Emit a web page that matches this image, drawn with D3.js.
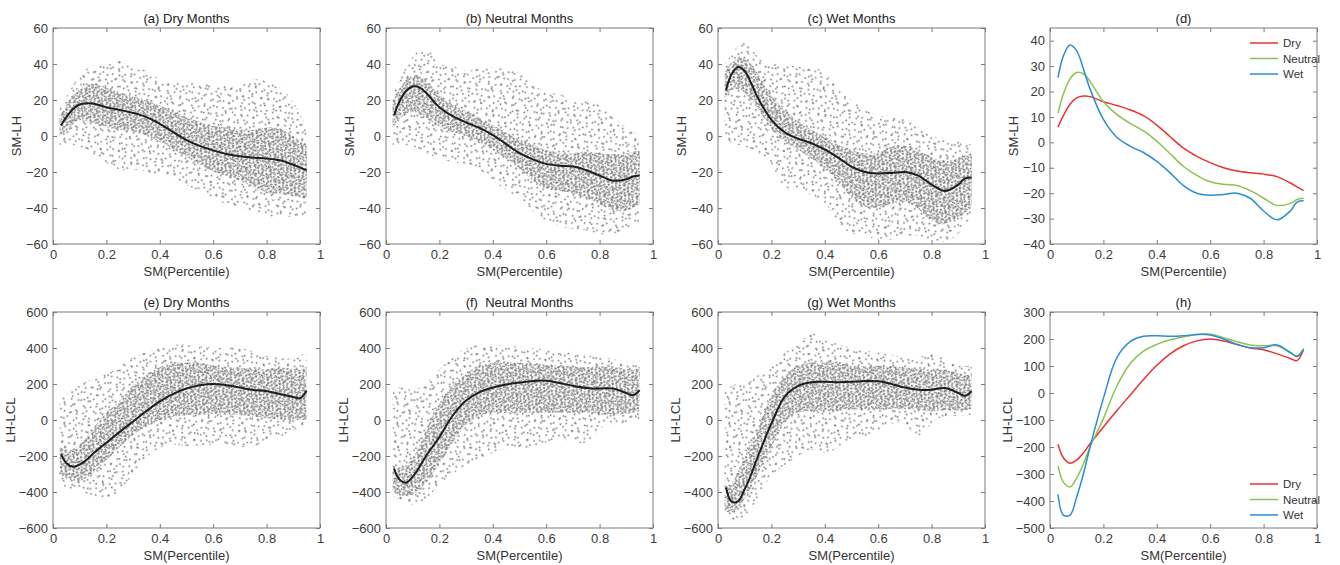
<!DOCTYPE html>
<html>
<head>
<meta charset="utf-8">
<script src="https://cdn.jsdelivr.net/npm/d3@7/dist/d3.min.js"></script>
<style>
  body { margin: 0; background: #fff; }
  svg text { font-family: "Liberation Sans", Arial, sans-serif; }
</style>
</head>
<body>
<svg id="chart" width="1340" height="565"></svg>
<script>
// smoothed curves (d) and (h)
var curveX = [0.03,0.05,0.075,0.1,0.125,0.15,0.2,0.25,0.3,0.35,0.4,0.45,0.5,0.55,0.6,0.65,0.7,0.75,0.8,0.85,0.9,0.925,0.95];
var dryLH     = [6,10.5,15,17.5,18.2,18,16,14.5,12.8,10.5,6.8,2.2,-2.3,-5.5,-8,-10,-11.3,-12,-12.5,-13.5,-16,-17.5,-19];
var neutralLH = [11.5,19,25,27.5,27,24,16,11,7.5,4.5,0.5,-4.5,-9.5,-13,-15.5,-16.5,-17,-19,-22,-24.8,-24,-22.5,-22];
var wetLH     = [25.5,34,38.3,36,29,21,9,2,-1.5,-4,-7.5,-12,-17,-20,-20.8,-20.5,-20,-22,-27,-30.5,-27,-23.5,-23];
var dryLCL     = [-190,-240,-260,-248,-222,-188,-126,-66,-8,50,103,145,175,193,200,193,180,167,160,145,128,120,162];
var neutralLCL = [-270,-330,-348,-315,-262,-200,-95,25,108,155,180,197,208,217,218,205,190,178,175,175,150,138,165];
var wetLCL     = [-375,-452,-452,-385,-300,-200,-20,130,190,210,212,210,212,217,215,200,180,168,168,178,150,135,160];

// scatter clouds: dense core and sparse outer envelope [low, high] at each SM value
var bandX = [0.025,0.05,0.1,0.15,0.2,0.25,0.3,0.35,0.4,0.45,0.5,0.55,0.6,0.65,0.7,0.75,0.8,0.85,0.9,0.95];
var dryLHCore  = [[0,10],[3,18],[10,27],[7,30],[5,27],[3,24],[3,22],[0,20],[-3,17],[-7,14],[-12,10],[-16,8],[-20,5],[-22,5],[-25,3],[-28,3],[-32,5],[-32,5],[-33,0],[-35,-5]];
var dryLHOuter = [[-5,15],[-5,22],[-5,35],[-10,40],[-15,38],[-20,44],[-18,36],[-20,38],[-22,30],[-22,30],[-28,30],[-30,30],[-35,28],[-38,28],[-40,27],[-42,33],[-45,30],[-45,28],[-45,20],[-45,5]];
var neutralLHCore  = [[5,18],[10,28],[15,35],[10,32],[5,22],[2,17],[0,14],[-3,10],[-8,6],[-12,2],[-18,-2],[-25,-5],[-30,-8],[-30,-10],[-32,-10],[-34,-8],[-38,-10],[-42,-10],[-42,-10],[-38,-8]];
var neutralLHOuter = [[-5,22],[-5,32],[-5,45],[-10,52],[-12,38],[-15,40],[-15,35],[-18,38],[-25,38],[-30,38],[-35,35],[-42,30],[-48,22],[-50,25],[-52,18],[-52,20],[-55,18],[-55,10],[-52,5],[-48,0]];
var wetLHCore  = [[20,35],[28,42],[25,45],[15,35],[3,22],[-3,14],[-8,8],[-12,3],[-18,0],[-25,-5],[-35,-8],[-40,-10],[-40,-10],[-38,-5],[-35,-5],[-40,-8],[-48,-12],[-50,-15],[-45,-12],[-40,-10]];
var wetLHOuter = [[0,40],[-5,45],[-5,56],[-10,42],[-12,40],[-35,40],[-25,38],[-35,38],[-35,37],[-50,25],[-55,20],[-55,15],[-58,10],[-58,12],[-55,10],[-55,5],[-58,0],[-60,-2],[-55,-2],[-45,-5]];
var dryLCLCore  = [[-300,-150],[-330,-180],[-350,-150],[-300,-50],[-220,50],[-150,100],[-80,200],[-30,250],[0,300],[20,320],[30,320],[30,320],[30,300],[30,290],[30,290],[20,280],[10,280],[0,300],[0,280],[0,280]];
var dryLCLOuter = [[-350,100],[-380,150],[-400,200],[-420,230],[-450,250],[-400,300],[-300,350],[-200,380],[-150,400],[-130,420],[-150,420],[-140,410],[-140,400],[-140,400],[-150,410],[-150,380],[-120,350],[-100,350],[-50,330],[-30,380]];
var neutralLCLCore  = [[-400,-250],[-420,-280],[-430,-230],[-350,-50],[-250,100],[-120,200],[-20,260],[30,310],[40,320],[40,320],[40,320],[40,310],[40,310],[40,300],[40,300],[40,290],[30,300],[30,300],[30,280],[50,280]];
var neutralLCLOuter = [[-420,150],[-450,200],[-480,150],[-450,200],[-350,280],[-300,360],[-250,400],[-220,420],[-180,420],[-150,410],[-150,410],[-160,400],[-120,390],[-110,390],[-110,380],[-150,360],[-30,350],[-20,340],[-20,320],[0,330]];
var wetLCLCore  = [[-500,-350],[-530,-380],[-450,-200],[-300,-50],[-150,150],[0,250],[50,310],[50,320],[50,320],[50,320],[60,300],[60,300],[60,300],[60,300],[60,290],[60,280],[40,280],[60,280],[50,260],[60,250]];
var wetLCLOuter = [[-520,150],[-550,200],[-580,200],[-420,250],[-300,300],[-250,380],[-200,420],[-150,500],[-200,450],[-150,420],[-100,400],[-100,380],[-60,380],[-20,360],[0,350],[-130,330],[0,400],[20,330],[20,300],[30,300]];

// ticks
var xTicks = [0,0.2,0.4,0.6,0.8,1];
var lhTicks = [-60,-40,-20,0,20,40,60];
var lclTicks = [-600,-400,-200,0,200,400,600];
var dTicks = [-40,-30,-20,-10,0,10,20,30,40];
var hTicks = [-500,-400,-300,-200,-100,0,100,200,300];
var seriesNames = ["Dry","Neutral","Wet"];

var RED = "#ec3030", GREEN = "#8cc350", BLUE = "#2a8fd2";
var W = 267, H = 216;
var colLeft = [53, 386, 718, 1050];
var rowTop = [28, 312];

var svg = d3.select("#chart");
var defs = svg.append("defs");

// stipple textures for the scatter clouds (two rotated tiles per layer to break up the grid)
function addPattern(id, size, dots, angle) {
  var p = defs.append("pattern")
    .attr("id", id)
    .attr("width", size).attr("height", size)
    .attr("patternUnits", "userSpaceOnUse")
    .attr("patternTransform", "rotate(" + angle + ")");
  p.selectAll("rect").data(dots).enter().append("rect")
    .attr("x", function(d) { return d[0]; })
    .attr("y", function(d) { return d[1]; })
    .attr("width", 1.6).attr("height", 1.6)
    .attr("fill", "#7e7e7e");
}
addPattern("sparseA", 14, [[1,2],[7,0.5],[10.5,5.5],[4,8],[9,11]], 31);
addPattern("sparseB", 17, [[2,3],[9,1],[13,9],[5,12],[11,15]], -47);
addPattern("denseA", 8, [[0.5,0.5],[4.5,1.5],[2,4],[6,4.8],[1,6.6],[4.2,7]], 17);
addPattern("denseB", 9, [[1,1],[5.5,0.8],[3,4.5],[7,5],[1.5,7.5],[5.5,7.8]], -29);

var panels = [
  {col:0,row:0,title:"(a) Dry Months",yLabel:"SM-LH",yDomain:[-60,60],yTicks:lhTicks,outer:dryLHOuter,core:dryLHCore,lines:[dryLH],colors:["#1e1e1e"]},
  {col:1,row:0,title:"(b) Neutral Months",yLabel:"SM-LH",yDomain:[-60,60],yTicks:lhTicks,outer:neutralLHOuter,core:neutralLHCore,lines:[neutralLH],colors:["#1e1e1e"]},
  {col:2,row:0,title:"(c) Wet Months",yLabel:"SM-LH",yDomain:[-60,60],yTicks:lhTicks,outer:wetLHOuter,core:wetLHCore,lines:[wetLH],colors:["#1e1e1e"]},
  {col:3,row:0,title:"(d)",yLabel:"SM-LH",yDomain:[-40,45],yTicks:dTicks,lines:[dryLH,neutralLH,wetLH],colors:[RED,GREEN,BLUE],legendY:15},
  {col:0,row:1,title:"(e) Dry Months",yLabel:"LH-LCL",yDomain:[-600,600],yTicks:lclTicks,outer:dryLCLOuter,core:dryLCLCore,lines:[dryLCL],colors:["#1e1e1e"]},
  {col:1,row:1,title:"(f)  Neutral Months",yLabel:"LH-LCL",yDomain:[-600,600],yTicks:lclTicks,outer:neutralLCLOuter,core:neutralLCLCore,lines:[neutralLCL],colors:["#1e1e1e"]},
  {col:2,row:1,title:"(g) Wet Months",yLabel:"LH-LCL",yDomain:[-600,600],yTicks:lclTicks,outer:wetLCLOuter,core:wetLCLCore,lines:[wetLCL],colors:["#1e1e1e"]},
  {col:3,row:1,title:"(h)",yLabel:"LH-LCL",yDomain:[-500,300],yTicks:hTicks,lines:[dryLCL,neutralLCL,wetLCL],colors:[RED,GREEN,BLUE],legendY:172}
];

var x = d3.scaleLinear().domain([0, 1]).range([0, W]);
var fmt = d3.format("~g");

panels.forEach(function(p, k) {
  var g = svg.append("g")
    .attr("transform", "translate(" + colLeft[p.col] + "," + rowTop[p.row] + ")");
  var y = d3.scaleLinear().domain(p.yDomain).range([H, 0]);

  g.append("clipPath").attr("id", "clip" + k)
    .append("rect").attr("width", W).attr("height", H);
  var plot = g.append("g").attr("clip-path", "url(#clip" + k + ")");

  // scatter cloud
  if (p.outer) {
    var area = d3.area()
      .x(function(d, i) { return x(bandX[i]); })
      .y0(function(d) { return y(d[0]); })
      .y1(function(d) { return y(d[1]); })
      .curve(d3.curveBasis);
    ["sparseA", "sparseB"].forEach(function(id) {
      plot.append("path").attr("d", area(p.outer)).attr("fill", "url(#" + id + ")");
    });
    ["denseA", "denseB"].forEach(function(id) {
      plot.append("path").attr("d", area(p.core)).attr("fill", "url(#" + id + ")");
    });
  }

  // curves
  var line = d3.line()
    .x(function(d, i) { return x(curveX[i]); })
    .y(function(d) { return y(d); })
    .curve(d3.curveCatmullRom.alpha(0.5));
  p.lines.forEach(function(vals, i) {
    plot.append("path")
      .attr("d", line(vals))
      .attr("fill", "none")
      .attr("stroke", p.colors[i])
      .attr("stroke-width", p.outer ? 2 : 1.5);
  });

  // axes, MATLAB style: inward ticks on all four sides
  var bottom = g.append("g").attr("transform", "translate(0," + H + ")")
    .call(d3.axisBottom(x).tickValues(xTicks).tickSizeInner(-4).tickSizeOuter(0).tickPadding(6).tickFormat(fmt));
  var left = g.append("g")
    .call(d3.axisLeft(y).tickValues(p.yTicks).tickSizeInner(-4).tickSizeOuter(0).tickPadding(5).tickFormat(d3.format("")));
  var top = g.append("g")
    .call(d3.axisTop(x).tickValues(xTicks).tickSizeInner(-4).tickSizeOuter(0).tickFormat(""));
  var right = g.append("g").attr("transform", "translate(" + W + ",0)")
    .call(d3.axisRight(y).tickValues(p.yTicks).tickSizeInner(-4).tickSizeOuter(0).tickFormat(""));
  [bottom, left, top, right].forEach(function(a) {
    a.select(".domain").remove();
    a.selectAll(".tick line").attr("stroke", "#7a7a7a");
    a.selectAll(".tick text").attr("fill", "#3c3c3c").style("font-size", "13px");
  });
  g.append("rect")
    .attr("width", W).attr("height", H)
    .attr("fill", "none").attr("stroke", "#7a7a7a").attr("stroke-width", 1);

  // titles and labels
  g.append("text")
    .attr("x", W / 2).attr("y", -5)
    .attr("text-anchor", "middle")
    .style("font-size", "13px").style("white-space", "pre")
    .attr("fill", "#222")
    .text(p.title);
  g.append("text")
    .attr("x", W / 2).attr("y", H + 32)
    .attr("text-anchor", "middle")
    .style("font-size", "13px")
    .attr("fill", "#333")
    .text("SM(Percentile)");
  g.append("text")
    .attr("transform", "translate(" + (p.row === 0 ? -32 : -38) + "," + (H / 2) + ") rotate(-90)")
    .attr("text-anchor", "middle")
    .style("font-size", "13px")
    .attr("fill", "#333")
    .text(p.yLabel);

  // legend
  if (p.legendY !== undefined) {
    var leg = g.append("g").attr("transform", "translate(200," + p.legendY + ")");
    seriesNames.forEach(function(name, i) {
      var row = leg.append("g").attr("transform", "translate(0," + (i * 15.5) + ")");
      row.append("line").attr("x1", 0).attr("x2", 28)
        .attr("stroke", p.colors[i]).attr("stroke-width", 1.5);
      row.append("text").attr("x", 33).attr("dy", "0.35em")
        .style("font-size", "11.5px").attr("fill", "#333")
        .text(name);
    });
  }
});
</script>
</body>
</html>
